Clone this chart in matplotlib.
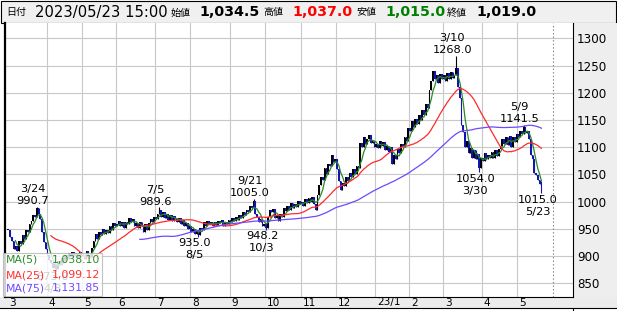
import matplotlib
matplotlib.use("Agg")
import matplotlib.pyplot as plt
from matplotlib.patches import Rectangle
import numpy as np
import pandas as pd

plt.rcParams['font.family'] = ['DejaVu Sans', 'Noto Sans CJK JP']

# ---------------- data (daily closes) ----------------
month_labels = ["3", "4", "5", "6", "7", "8", "9", "10", "11", "12", "23/1", "2", "3", "4", "5"]

close_2022_03 = [948, 935, 928, 912, 918, 910, 928, 922, 938, 932, 948, 945, 958, 965, 975, 972,
                 988, 978, 968, 945, 925, 912]
close_2022_04 = [902, 892, 888, 878, 885, 876, 890, 884, 896, 890, 902, 895, 905, 898, 908, 900,
                 906, 896, 908, 900]
close_2022_05 = [902, 895, 910, 902, 898, 915, 928, 940, 932, 945, 938, 950, 940, 948, 942, 955,
                 948, 960, 955]
close_2022_06 = [958, 965, 955, 962, 952, 963, 958, 970, 962, 968, 955, 960, 952, 962, 956, 945,
                 958, 948, 960, 968, 962, 972]
close_2022_07 = [968, 978, 984, 972, 980, 970, 978, 966, 975, 965, 973, 968, 962, 970, 958, 966,
                 955, 960, 950, 955]
close_2022_08 = [945, 950, 940, 946, 938, 952, 948, 962, 955, 965, 958, 962, 955, 963, 957, 965,
                 960, 966, 956, 963, 958, 966]
close_2022_09 = [962, 970, 964, 972, 966, 975, 970, 980, 975, 985, 980, 992, 988, 1002, 978, 972,
                 962, 968, 955, 958]
close_2022_10 = [952, 972, 985, 980, 986, 970, 975, 965, 978, 972, 988, 982, 992, 985, 998, 988,
                 995, 990, 1002, 995]
close_2022_11 = [1000, 992, 1005, 998, 1006, 1000, 1008, 995, 985, 1012, 1030, 1045, 1040, 1062,
                 1050, 1070, 1065, 1085, 1072, 1078]
close_2022_12 = [1060, 1038, 1022, 1035, 1028, 1045, 1038, 1052, 1045, 1060, 1050, 1066, 1062,
                 1108, 1100, 1118, 1105, 1115, 1122, 1108, 1112, 1100]
close_2023_01 = [1106, 1098, 1112, 1102, 1110, 1095, 1102, 1092, 1100, 1070, 1085, 1078, 1096,
                 1090, 1106, 1100, 1118, 1112, 1135]
close_2023_02 = [1130, 1148, 1138, 1152, 1142, 1160, 1150, 1168, 1160, 1180, 1172, 1205, 1222,
                 1240, 1225, 1232, 1218, 1234, 1226]
close_2023_03 = [1232, 1222, 1236, 1225, 1238, 1228, 1232, 1245, 1210, 1190, 1140, 1128, 1100,
                 1112, 1090, 1098, 1080, 1095, 1078, 1088, 1062, 1080]
close_2023_04 = [1075, 1090, 1078, 1086, 1080, 1092, 1080, 1094, 1084, 1096, 1102, 1115, 1106,
                 1118, 1104, 1120, 1100, 1118, 1110, 1124]
close_2023_05 = [1118, 1130, 1124, 1138, 1126, 1130, 1115, 1085, 1078, 1052, 1048, 1040, 1032, 1019]
may_2023_trading_days = 20

last_open, last_high, last_low, last_close = 1034.5, 1037.0, 1015.0, 1019.0

mark_idx = [16, 27, 85, 107, 138, 145, 252, 265, 290, 300]
mark_dates = ["3/24", "4/8", "7/5", "8/5", "9/21", "10/3", "3/10", "3/30", "5/9", "5/23"]
mark_vals = [990.7, 873.0, 989.6, 935.0, 1005.0, 948.2, 1268.0, 1054.0, 1141.5, 1015.0]
mark_kind = ["H", "L", "H", "L", "H", "L", "H", "L", "H", "L"]

ma_windows = [5, 25, 75]
ma_names = ["MA(5)", "MA(25)", "MA(75)"]
ma_last_text = ["1,038.10", "1,099.12", "1,131.85"]
y_ticks = [850, 900, 950, 1000, 1050, 1100, 1150, 1200, 1250, 1300]

header_items = [("日付", 6, 7.2, "normal", "#000000"),
                ("2023/05/23 15:00", 35, 10.6, "normal", "#000000"),
                ("始値", 171, 7.2, "normal", "#000000"),
                ("1,034.5", 199, 10.2, "bold", "#000000"),
                ("高値", 263, 7.2, "normal", "#000000"),
                ("1,037.0", 292, 10.2, "bold", "#ff0000"),
                ("安値", 356, 7.2, "normal", "#000000"),
                ("1,015.0", 385, 10.2, "bold", "#008000"),
                ("終値", 447, 7.2, "normal", "#000000"),
                ("1,019.0", 476, 10.2, "bold", "#000000")]

# ---------------- derived series ----------------
month_closes = [close_2022_03, close_2022_04, close_2022_05, close_2022_06, close_2022_07,
                close_2022_08, close_2022_09, close_2022_10, close_2022_11, close_2022_12,
                close_2023_01, close_2023_02, close_2023_03, close_2023_04, close_2023_05]
closes = np.array(np.concatenate(month_closes), dtype=float)
n = len(closes)
x = np.arange(n)
month_starts = np.cumsum([0] + [len(m) for m in month_closes])[:-1]
next_month_start = month_starts[-1] + may_2023_trading_days

opens = np.r_[closes[0], closes[:-1]]
opens[-1] = last_open
highs = np.maximum(opens, closes)
lows = np.minimum(opens, closes)
for i, v, k in zip(mark_idx, mark_vals, mark_kind):
    if k == "H":
        highs[i] = max(highs[i], v)
    else:
        lows[i] = min(lows[i], v)
highs[-1] = last_high
lows[-1] = last_low

# ---------------- figure ----------------
W, H = 617, 311
fig = plt.figure(figsize=(W / 100, H / 100), dpi=100)
fig.patch.set_facecolor("white")


def fx(px):
    return px / W


def fy(py):
    return 1 - py / H


# header bar
fig.add_artist(Rectangle((fx(1), fy(22.7)), fx(615), 21.7 / H, transform=fig.transFigure,
                         facecolor="#f0f0f0", edgecolor="black", lw=0.8, zorder=-1))
# right price panel
fig.add_artist(Rectangle((fx(573), fy(296.5)), fx(44), (296.5 - 22.7) / H, transform=fig.transFigure,
                         facecolor="#eeeeee", edgecolor="none", zorder=-1))
# bottom month strip
fig.add_artist(Rectangle((0, fy(308)), 1, (308 - 296.5) / H, transform=fig.transFigure,
                         facecolor="#ececec", edgecolor="none", zorder=-1))
fig.add_artist(plt.Line2D([0, 1], [fy(308.3), fy(308.3)], transform=fig.transFigure,
                          color="black", lw=0.8))
fig.add_artist(plt.Line2D([fx(573), fx(573)], [0, fy(308.3)], transform=fig.transFigure,
                          color="black", lw=0.8))

for txt, px, fs, fw, colr in header_items:
    fig.text(fx(px), fy(12.5), txt, fontsize=fs, fontweight=fw, color=colr,
             ha="left", va="center")

ax_left, ax_right, ax_top, ax_bot = 5, 573, 22.7, 296.5
ax = fig.add_axes([fx(ax_left), fy(ax_bot), fx(ax_right - ax_left), (ax_bot - ax_top) / H])
ax.set_facecolor("white")

px_per_day = 1.777
x0_px = 8.3
ax.set_xlim((ax_left - x0_px) / px_per_day, (ax_right - x0_px) / px_per_day)
y_px_per_unit = 0.544
y1300_px = 38.4
ax.set_ylim(1300 - (ax_bot - y1300_px) / y_px_per_unit, 1300 + (y1300_px - ax_top) / y_px_per_unit)

# grid
for v in y_ticks:
    ax.axhline(v, color="#c8c8c8", lw=0.8, zorder=0)
for s in month_starts[1:]:
    ax.axvline(s - 0.5, color="#c8c8c8", lw=0.8, zorder=0)
ax.axvline(next_month_start - 0.5, color="#808080", lw=0.8, ls=(0, (1.2, 2.0)), zorder=0)

# candles
up = closes >= opens
cols = np.where(up, "#000000", "#1414b4")
ax.vlines(x, lows, highs, colors=cols, lw=0.8, zorder=2)
body_h = np.maximum(np.abs(closes - opens), 1.8)
ax.bar(x, body_h, bottom=np.minimum(opens, closes), width=0.95, color=cols, lw=0, zorder=2)

# moving averages
ma_colors = ["#2a8a2a", "#ff2a2a", "#7048ff"]
s = pd.Series(closes)
for w, c in zip(ma_windows, ma_colors):
    ax.plot(x, s.rolling(w).mean(), color=c, lw=0.9, zorder=3)

# high / low marks
for i, v, d, k in zip(mark_idx, mark_vals, mark_dates, mark_kind):
    if k == "H":
        ax.annotate(f"{v:.1f}", xy=(i, v), xytext=(-4, 5.5), textcoords="offset pixels",
                    ha="center", va="center", fontsize=8.2, zorder=4)
        ax.annotate(d, xy=(i, v), xytext=(-4, 17.5), textcoords="offset pixels",
                    ha="center", va="center", fontsize=8.2, zorder=4)
    else:
        ax.annotate(f"{v:.1f}", xy=(i, v), xytext=(-4, -6.5), textcoords="offset pixels",
                    ha="center", va="center", fontsize=8.2, zorder=4)
        ax.annotate(d, xy=(i, v), xytext=(-4, -18.5), textcoords="offset pixels",
                    ha="center", va="center", fontsize=8.2, zorder=4)

# axes frame
ax.spines["top"].set_visible(False)
ax.spines["left"].set_linewidth(1.6)
ax.spines["right"].set_linewidth(0.8)
ax.spines["bottom"].set_linewidth(0.8)
ax.set_xticks([])
ax.yaxis.tick_right()
ax.set_yticks(y_ticks)
ax.set_yticklabels([str(v) for v in y_ticks])
ax.tick_params(axis="y", length=0, pad=3, labelsize=8.6)

# month labels
for s0, lab in zip(month_starts, month_labels):
    ax.annotate(lab, xy=(s0 - 0.5, 0), xycoords=("data", "axes fraction"),
                xytext=(2, -6), textcoords="offset pixels", ha="left", va="center",
                fontsize=7.6, annotation_clip=False)

# MA legend box (semi-transparent, drawn over the chart as in the reference)
ax.add_artist(Rectangle((fx(3.3), fy(296.3)), fx(98.4), (296.3 - 253.3) / H, transform=fig.transFigure,
                        facecolor="white", alpha=0.82, edgecolor="#b4b4b4", lw=0.8,
                        zorder=5, clip_on=False))
legend_rows = [260.0, 275.3, 288.3]
leg_colors = ["#2a8a2a", "#ff3030", "#7048ff"]
for name, val, c, ry in zip(ma_names, ma_last_text, leg_colors, legend_rows):
    ax.text(fx(6), fy(ry), name, transform=fig.transFigure, color=c, fontsize=7.8,
            ha="left", va="center", zorder=6)
    ax.text(fx(100), fy(ry), val, transform=fig.transFigure, color=c, fontsize=7.8,
            ha="right", va="center", zorder=6)

fig.savefig("out.png", dpi=100)
